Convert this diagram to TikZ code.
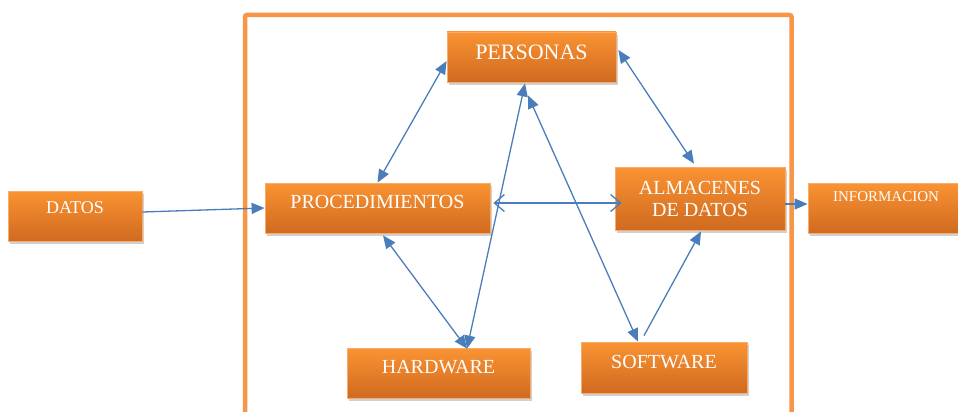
\documentclass[tikz,border=0pt]{standalone}
\usepackage{fontspec}
\setmainfont{Liberation Serif}
\usetikzlibrary{arrows.meta,shadows}
\definecolor{ortop}{RGB}{250,147,50}
\definecolor{orbot}{RGB}{208,106,32}
\definecolor{orborder}{RGB}{248,172,105}
\definecolor{framecol}{RGB}{247,150,70}
\definecolor{arrcol}{RGB}{74,126,187}
\tikzset{
  box/.style={rectangle, draw=orborder, line width=0.8pt, top color=ortop, bottom color=orbot,
    text=white, inner sep=0pt, align=center,
    drop shadow={shadow xshift=1.5pt, shadow yshift=-3pt, opacity=0.3, fill=black!60},
    font=\fontsize{20}{22}\selectfont},
  frame/.style={draw=framecol, line width=4.5pt, rounded corners=2pt},
  arr/.style={draw=arrcol, line width=1.3pt},
  both/.style={arr, {Triangle[length=13pt,width=11pt]}-{Triangle[length=13pt,width=11pt]}},
  single/.style={arr, -{Triangle[length=13pt,width=11pt]}},
  barbs/.style={arr, {Straight Barb[length=10pt,width=17pt]}-{Straight Barb[length=10pt,width=17pt]}}
}
\begin{document}
\begin{tikzpicture}[x=1pt,y=-1pt]
\clip (0,0) rectangle (958,412);
\fill[white] (0,0) rectangle (958,412);
\draw[frame] (245,15) rectangle (791.5,450);

\node[box, minimum width=134pt, minimum height=50pt, text height=14pt, text depth=18.1pt,
  font=\fontsize{18}{20}\selectfont] (datos) at (75,216) {DATOS};
\node[box, minimum width=225pt, minimum height=50pt, text height=15pt, text depth=13.8pt] (proc) at (377.5,208) {PROCEDIMIENTOS};
\node[box, minimum width=169pt, minimum height=50pt, text height=17pt, text depth=12.4pt,
  font=\fontsize{22}{24}\selectfont] (pers) at (531.5,57) {PERSONAS};
\node[box, minimum width=170pt, minimum height=63pt] (alm) at (700,198.5) {ALMACENES\\DE DATOS};
\node[box, minimum width=156pt, minimum height=50pt, text height=12pt, text depth=24.1pt,
  font=\fontsize{15}{17}\selectfont] (info) at (886,208) {INFORMACION};
\node[box, minimum width=183pt, minimum height=50pt, text height=15pt, text depth=13.8pt] (hw) at (438.5,373) {HARDWARE};
\node[box, minimum width=166pt, minimum height=51pt, text height=15pt, text depth=13.8pt] (sw) at (664,367.5) {SOFTWARE};

\draw[single] ([yshift=4pt]datos.east) -- (proc.west);
\draw[both] (proc.north) -- ([yshift=-4pt]pers.west);
\draw[barbs] ([xshift=3pt,yshift=5pt]proc.east) -- ([xshift=7pt,yshift=-4.5pt]alm.west);
\draw[both] ([xshift=2pt,yshift=7pt]pers.east) -- ([xshift=-6pt,yshift=3pt]alm.north);
\draw[both] ([xshift=5.5pt,yshift=-2pt]proc.south) -- ([xshift=28.5pt,yshift=-1pt]hw.north);
\draw[both] ([xshift=28.5pt,yshift=-1pt]hw.north) -- ([xshift=-6.5pt,yshift=-1pt]pers.south);
\draw[both] ([xshift=-3.5pt,yshift=-13pt]pers.south) -- ([xshift=-26pt]sw.north);
\draw[single] ([xshift=-20pt,yshift=6pt]sw.north) -- ([xshift=1pt,yshift=-1pt]alm.south);
\draw[single] ([yshift=-5.5pt]alm.east) -- ([yshift=4pt]info.west);
\end{tikzpicture}
\end{document}
